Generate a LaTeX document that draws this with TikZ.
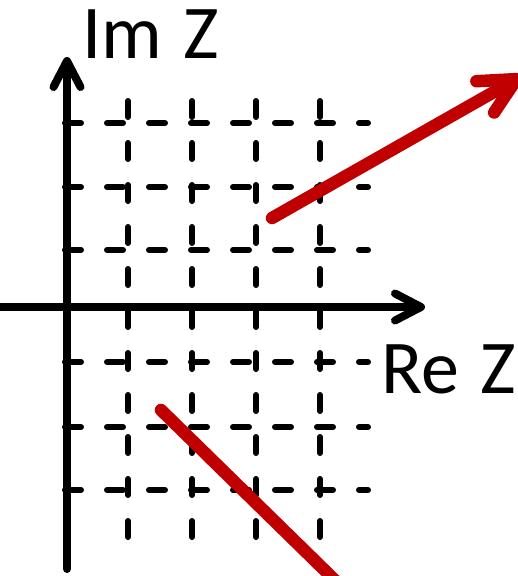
\documentclass[tikz,border=0pt]{standalone}
\usepackage{fontspec}
\setmainfont{Carlito}
\usetikzlibrary{arrows.meta}
\definecolor{vecred}{RGB}{192,0,0}

\begin{document}
\begin{tikzpicture}[x=1pt, y=-1pt,
    axis/.style={line width=8pt, line cap=round,
                 -{Straight Barb[length=26pt, width=27pt, line cap=round, line join=round]}},
    gridline/.style={line width=6pt, line cap=round, dash pattern=on 16pt off 26pt},
    vec/.style={draw=vecred, line width=12.5pt, line cap=round},
    label/.style={font=\fontsize{76}{82}\selectfont, inner sep=0pt}
  ]
  \clip (0,0) rectangle (518,576);

  % dashed grid
  \foreach \x in {128, 192, 256, 320}
    \draw[gridline] (\x, 101) -- (\x, 537.5);
  \foreach \y in {123, 187, 250, 362, 427, 490}
    \draw[gridline] (65, \y) -- (368, \y);

  % axes
  \coordinate (re-start) at (-10, 307);
  \coordinate (re-end) at (425, 307);
  \coordinate (im-start) at (67, 569);
  \coordinate (im-end) at (67, 57);
  \draw[axis] (re-start) -- (re-end);
  \draw[axis] (im-start) -- (im-end);

  \node[label, anchor=base west] (im-label) at (82, 58) {Im\hspace{0.28em}Z};
  \node[label, anchor=base west] (re-label) at (381, 393) {Re\hspace{0.28em}Z};

  % red vectors
  \coordinate (up-start) at (272, 218);
  \coordinate (up-end) at (522, 76);
  \coordinate (down-start) at (161, 410);
  \coordinate (down-end) at (350, 595);
  \draw[vec, -{Straight Barb[length=36pt, width=36pt, line cap=round, line join=round]}]
    (up-start) -- (up-end);
  \draw[vec] (down-start) -- (down-end);
\end{tikzpicture}
\end{document}
